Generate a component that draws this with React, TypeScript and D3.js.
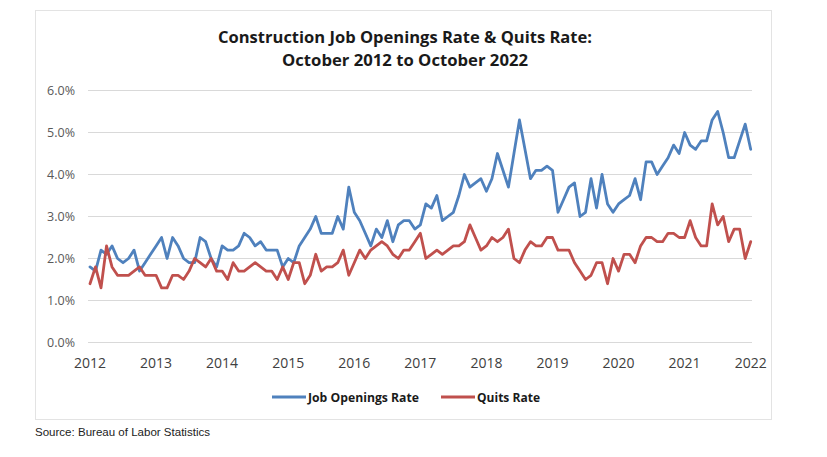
import React from "react";
import * as d3 from "d3";

const titleLines = ["Construction Job Openings Rate & Quits Rate:", "October 2012 to October 2022"];
const yearLabels = ["2012", "2013", "2014", "2015", "2016", "2017", "2018", "2019", "2020", "2021", "2022"];
const yTicks = [0, 1, 2, 3, 4, 5, 6];

const jobOpenings = [
  1.8, 1.7, 2.2, 2.1, 2.3, 2.0, 1.9, 2.0, 2.2, 1.7, 1.9, 2.1, 2.3, 2.5, 2.0, 2.5, 2.3, 2.0, 1.9, 1.9,
  2.5, 2.4, 2.0, 1.8, 2.3, 2.2, 2.2, 2.3, 2.6, 2.5, 2.3, 2.4, 2.2, 2.2, 2.2, 1.8, 2.0, 1.9,
  2.3, 2.5, 2.7, 3.0, 2.6, 2.6, 2.6, 3.0, 2.7, 3.7, 3.1, 2.9, 2.6, 2.3, 2.7, 2.5, 2.9, 2.4, 2.8, 2.9,
  2.9, 2.7, 2.8, 3.3, 3.2, 3.5, 2.9, 3.0, 3.1, 3.5, 4.0, 3.7, 3.8, 3.9, 3.6, 3.9, 4.5, 4.1, 3.7, 4.5,
  5.3, 4.6,
  3.9, 4.1, 4.1, 4.2, 4.1, 3.1, 3.4, 3.7, 3.8, 3.0, 3.1, 3.9, 3.2, 4.0, 3.3, 3.1, 3.3, 3.4, 3.5, 3.9,
  3.4, 4.3, 4.3, 4.0, 4.2, 4.4, 4.7, 4.5, 5.0, 4.7, 4.6, 4.8, 4.8, 5.3, 5.5, 5.0, 4.4, 4.4, 4.8, 5.2,
  4.6,
];

const quits = [
  1.4, 1.8, 1.3, 2.3, 1.8, 1.6, 1.6, 1.6, 1.7, 1.8, 1.6, 1.6, 1.6, 1.3, 1.3, 1.6, 1.6, 1.5, 1.7, 2.0,
  1.9, 1.8, 2.0, 1.7, 1.7, 1.5, 1.9, 1.7, 1.7, 1.8, 1.9, 1.8, 1.7, 1.7, 1.5, 1.8, 1.5, 1.9,
  1.9, 1.4, 1.6, 2.1, 1.7, 1.8, 1.8, 1.9, 2.2, 1.6, 1.9, 2.2, 2.0, 2.2, 2.3, 2.4, 2.3, 2.1, 2.0, 2.2,
  2.2, 2.4, 2.6, 2.0, 2.1, 2.2, 2.1, 2.2, 2.3, 2.3, 2.4, 2.8, 2.5, 2.2, 2.3, 2.5, 2.4, 2.5, 2.7, 2.0,
  1.9, 2.2,
  2.4, 2.3, 2.3, 2.5, 2.5, 2.2, 2.2, 2.2, 1.9, 1.7, 1.5, 1.6, 1.9, 1.9, 1.4, 2.0, 1.7, 2.1, 2.1, 1.9,
  2.3, 2.5, 2.5, 2.4, 2.4, 2.6, 2.6, 2.5, 2.5, 2.9, 2.5, 2.3, 2.3, 3.3, 2.8, 3.0, 2.4, 2.7, 2.7, 2.0,
  2.4,
];

const seriesNames = ["Job Openings Rate", "Quits Rate"];
const seriesColors = ["#4f81bd", "#c0504d"];

export default function App() {
  const W = 827;
  const H = 457;
  const x = d3.scaleLinear().domain([0, 120]).range([90, 750.7]);
  const y = d3.scaleLinear().domain([0, 6]).range([342.5, 90.5]);
  const line = d3
    .line<number>()
    .x((_, i) => x(i))
    .y((d) => y(d));
  const series = [jobOpenings, quits];
  const font = "'Open Sans', 'Liberation Sans', sans-serif";

  return (
    <svg
      width={W}
      height={H}
      style={{ position: "absolute", left: 0, top: 0, background: "#fff" }}
    >
      <rect x={0} y={0} width={W} height={H} fill="#fff" />
      <rect x={35.5} y={10.5} width={736} height={409} fill="#fff" stroke="#e3e3e3" strokeWidth={1} />
      {titleLines.map((t, i) => (
        <text
          key={t}
          x={405}
          y={43 + i * 23}
          textAnchor="middle"
          fontFamily={font}
          fontWeight="bold"
          fontSize={16.5}
          fill="#1a1a1a"
          textLength={i === 0 ? 374 : 246}
          lengthAdjust="spacingAndGlyphs"
        >
          {t}
        </text>
      ))}
      {yTicks.map((v) => (
        <g key={v}>
          <line x1={88} x2={752} y1={y(v)} y2={y(v)} stroke="#d9d9d9" strokeWidth={1} />
          <text
            x={75}
            y={y(v) + 4.5}
            textAnchor="end"
            fontFamily={font}
            fontSize={12.5}
            fill="#595959"
          >
            {v.toFixed(1) + "%"}
          </text>
        </g>
      ))}
      {yearLabels.map((lab, k) => (
        <text
          key={lab}
          x={x(k * 12)}
          y={368}
          textAnchor="middle"
          fontFamily={font}
          fontSize={14}
          fill="#404040"
        >
          {lab}
        </text>
      ))}
      {series.map((s, i) => (
        <path
          key={i}
          d={line(s) || ""}
          fill="none"
          stroke={seriesColors[i]}
          strokeWidth={2.8}
          strokeLinejoin="round"
          strokeLinecap="round"
        />
      ))}
      {seriesNames.map((n, i) => {
        const lx = i === 0 ? 272 : 441;
        return (
          <g key={n}>
            <line x1={lx} x2={lx + 34} y1={397} y2={397} stroke={seriesColors[i]} strokeWidth={3} />
            <text
              x={lx + 36}
              y={401.5}
              fontFamily={font}
              fontWeight="bold"
              fontSize={12.5}
              fill="#1a1a1a"
              textLength={i === 0 ? 111 : 63}
              lengthAdjust="spacingAndGlyphs"
            >
              {n}
            </text>
          </g>
        );
      })}
      <text
        x={35}
        y={436}
        fontFamily="'Liberation Sans', Arial, sans-serif"
        fontSize={10.5}
        fill="#222"
        textLength={175}
        lengthAdjust="spacingAndGlyphs"
      >
        Source: Bureau of Labor Statistics
      </text>
    </svg>
  );
}
